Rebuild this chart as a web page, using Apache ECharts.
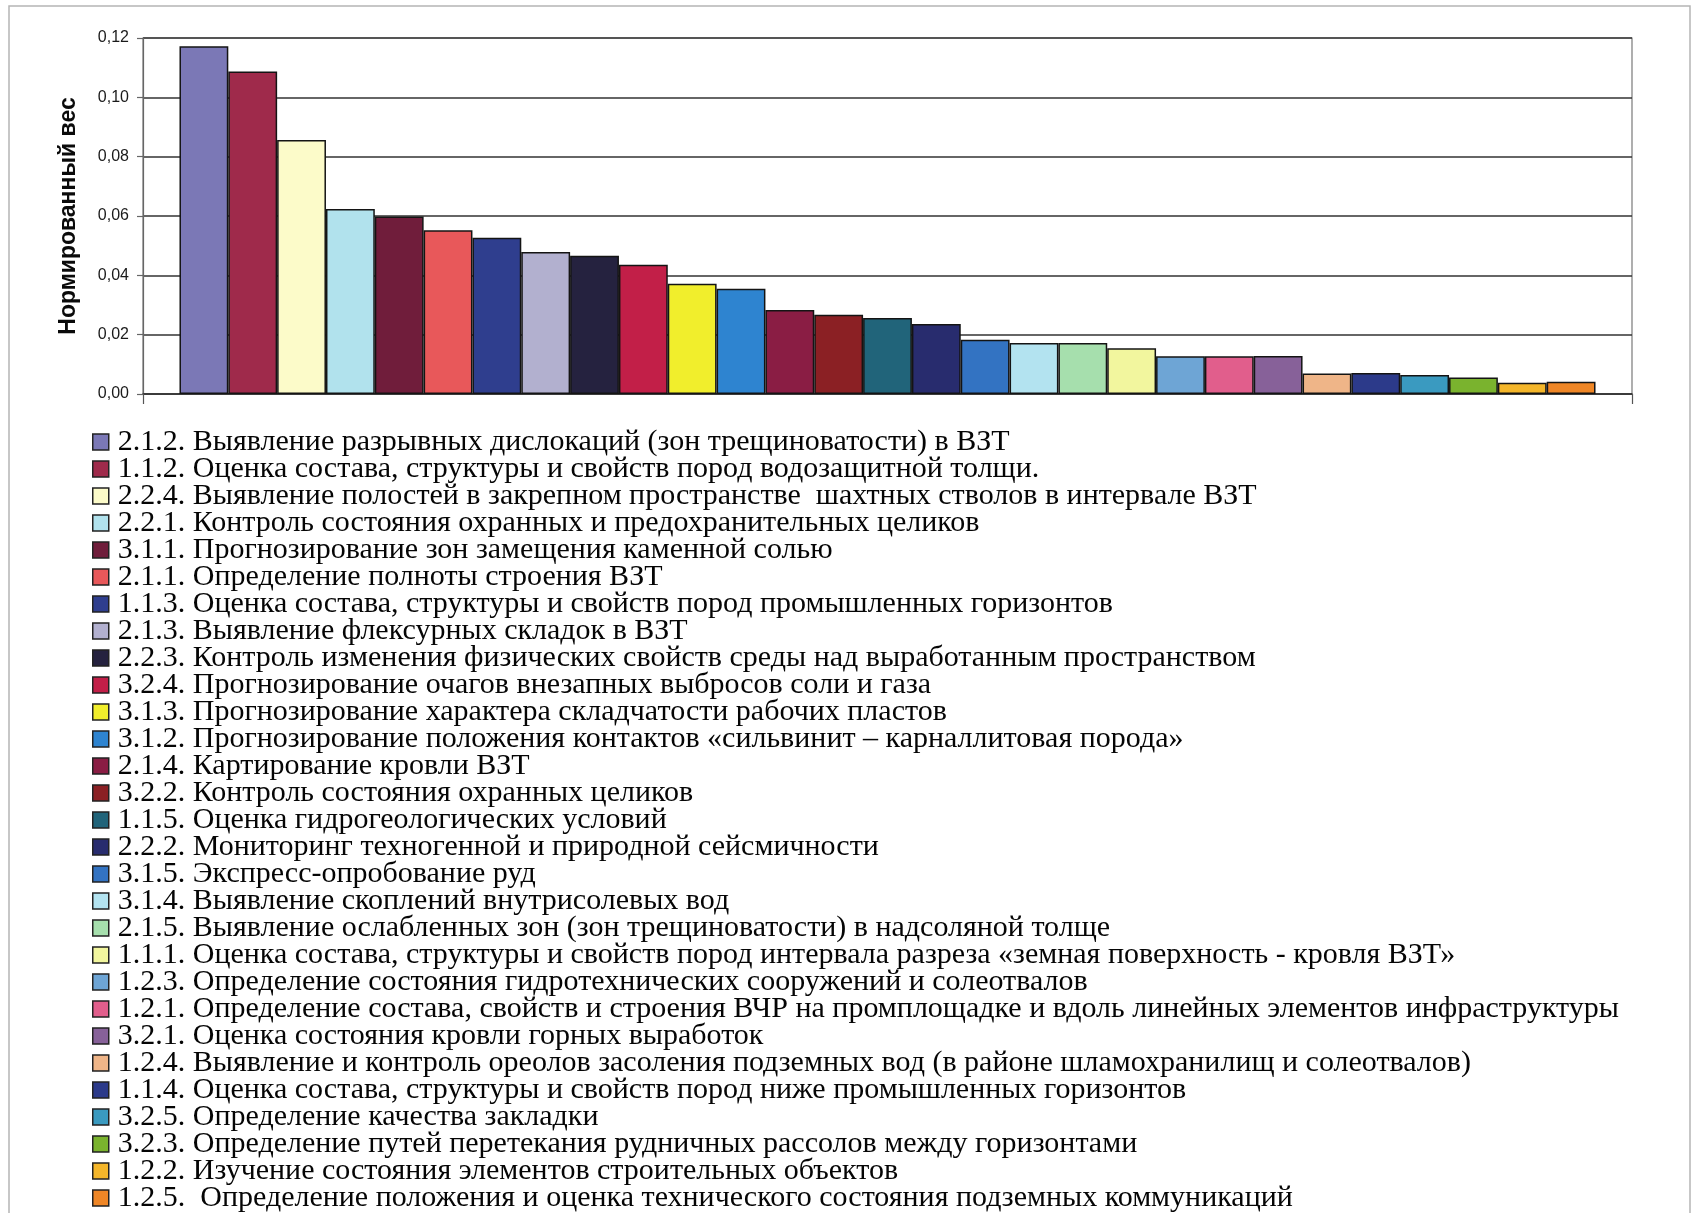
<!DOCTYPE html>
<html>
<head>
<meta charset="utf-8">
<script src="https://cdn.jsdelivr.net/npm/echarts@6/dist/echarts.min.js"></script>
<style>
  html, body { margin: 0; padding: 0; background: #ffffff; }
  #chart { width: 1697px; height: 1213px; }
</style>
</head>
<body>
<div id="chart"></div>
<script>
// Criteria of the monitoring system, sorted by normalised weight
const criteria = [
  '2.1.2. Выявление разрывных дислокаций (зон трещиноватости) в ВЗТ',
  '1.1.2. Оценка состава, структуры и свойств пород водозащитной толщи.',
  '2.2.4. Выявление полостей в закрепном пространстве  шахтных стволов в интервале ВЗТ',
  '2.2.1. Контроль состояния охранных и предохранительных целиков',
  '3.1.1. Прогнозирование зон замещения каменной солью',
  '2.1.1. Определение полноты строения ВЗТ',
  '1.1.3. Оценка состава, структуры и свойств пород промышленных горизонтов',
  '2.1.3. Выявление флексурных складок в ВЗТ',
  '2.2.3. Контроль изменения физических свойств среды над выработанным пространством',
  '3.2.4. Прогнозирование очагов внезапных выбросов соли и газа',
  '3.1.3. Прогнозирование характера складчатости рабочих пластов',
  '3.1.2. Прогнозирование положения контактов «сильвинит – карналлитовая порода»',
  '2.1.4. Картирование кровли ВЗТ',
  '3.2.2. Контроль состояния охранных целиков',
  '1.1.5. Оценка гидрогеологических условий',
  '2.2.2. Мониторинг техногенной и природной сейсмичности',
  '3.1.5. Экспресс-опробование руд',
  '3.1.4. Выявление скоплений внутрисолевых вод',
  '2.1.5. Выявление ослабленных зон (зон трещиноватости) в надсоляной толще',
  '1.1.1. Оценка состава, структуры и свойств пород интервала разреза «земная поверхность - кровля ВЗТ»',
  '1.2.3. Определение состояния гидротехнических сооружений и солеотвалов',
  '1.2.1. Определение состава, свойств и строения ВЧР на промплощадке и вдоль линейных элементов инфраструктуры',
  '3.2.1. Оценка состояния кровли горных выработок',
  '1.2.4. Выявление и контроль ореолов засоления подземных вод (в районе шламохранилищ и солеотвалов)',
  '1.1.4. Оценка состава, структуры и свойств пород ниже промышленных горизонтов',
  '3.2.5. Определение качества закладки',
  '3.2.3. Определение путей перетекания рудничных рассолов между горизонтами',
  '1.2.2. Изучение состояния элементов строительных объектов',
  '1.2.5.  Определение положения и оценка технического состояния подземных коммуникаций'
];

// Normalised weight of each criterion
const weights = [
  0.1172, 0.1087, 0.0856, 0.0624, 0.0598, 0.0552, 0.0527, 0.0479, 0.0466, 0.0436,
  0.0372, 0.0355, 0.0283, 0.0267, 0.0256, 0.0236, 0.0183, 0.0172, 0.0172, 0.0154,
  0.0127, 0.0127, 0.0128, 0.0069, 0.0071, 0.0064, 0.0056, 0.0038, 0.0041
];

// Fill colour of each bar
const palette = [
  '#7b78b6', '#9f2a4b', '#fcfbc9', '#b1e2ed', '#701d3b', '#e8585a', '#2f3e8e', '#b2b0cf',
  '#25223f', '#c21f48', '#f1ee2c', '#2e84d0', '#8a1d44', '#8b2024', '#21647a', '#282c6e',
  '#3373c2', '#b3e3f0', '#a6dfad', '#f2f69e', '#6ea5d5', '#e15e8c', '#876199', '#efb588',
  '#2c3a8a', '#3a9ac0', '#7ab32e', '#f4b62a', '#ef8626'
];

// Value axis ticks
const yMin = 0, yMax = 0.12, yStep = 0.02;

const series = criteria.map((name, i) => ({
  name: name,
  type: 'bar',
  data: [weights[i]],
  barGap: '0%',
  barCategoryGap: '4.9%',
  itemStyle: { color: palette[i], borderColor: '#141414', borderWidth: 1.5 },
  animation: false
}));

const chart = echarts.init(document.getElementById('chart'), null, { renderer: 'canvas' });
chart.setOption({
  backgroundColor: '#ffffff',
  animation: false,
  grid: {
    left: 143, right: 65, top: 38, bottom: 819,
    show: true, borderColor: '#7a7a7a', borderWidth: 1.2, backgroundColor: '#ffffff'
  },
  xAxis: {
    type: 'category',
    data: [''],
    axisLine: { lineStyle: { color: '#333', width: 1.5 } },
    axisTick: { show: true, length: 10, lineStyle: { color: '#555', width: 1.2 } },
    axisLabel: { show: false }
  },
  yAxis: {
    type: 'value',
    min: yMin, max: yMax, interval: yStep,
    name: 'Нормированный вес',
    nameLocation: 'middle',
    nameRotate: 90,
    nameGap: 63,
    nameTextStyle: { fontFamily: 'Liberation Sans', fontWeight: 'bold', fontSize: 23, color: '#0a0a0a' },
    axisLine: { show: true, lineStyle: { color: '#666', width: 1.2 } },
    axisTick: { show: true, length: 6, lineStyle: { color: '#666', width: 1.2 } },
    axisLabel: {
      margin: 14,
      fontFamily: 'Liberation Sans', fontSize: 16, color: '#1a1a1a',
      formatter: v => v.toFixed(2).replace('.', ',')
    },
    splitLine: { show: true, lineStyle: { color: '#333333', width: 1.5 } }
  },
  legend: {
    type: 'plain',
    orient: 'vertical',
    left: 92, top: 427,
    height: 900,
    padding: 0,
    itemGap: -3,
    itemWidth: 16, itemHeight: 16,
    icon: 'rect',
    selectedMode: false,
    itemStyle: { borderColor: '#222', borderWidth: 1.5 },
    textStyle: {
      fontFamily: 'Liberation Serif', fontSize: 30, color: '#050505',
      padding: [0, 0, 0, 4]
    },
    data: criteria
  },
  graphic: [{
    type: 'rect',
    shape: { x: 9, y: 6, width: 1681, height: 1212 },
    style: { fill: 'none', stroke: '#b5b5b5', lineWidth: 1.5 },
    silent: true
  }],
  series: series
});
</script>
</body>
</html>
